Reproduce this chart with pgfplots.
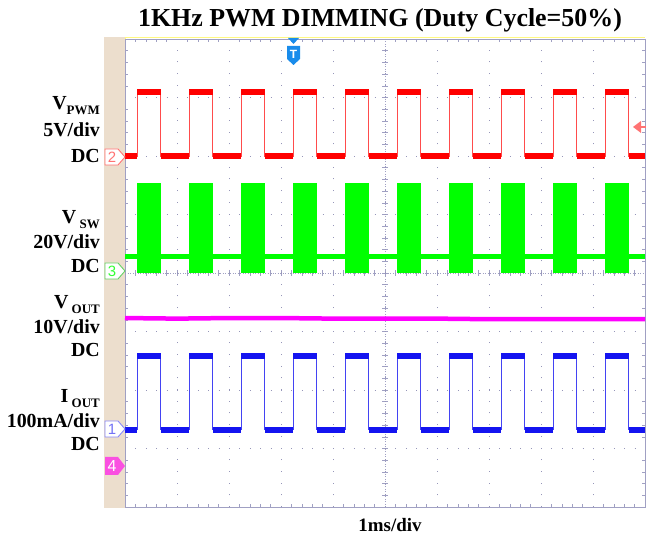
\documentclass[border=0pt]{standalone}
\usepackage{pgfplots}
\pgfplotsset{compat=1.18}
\usepackage{fontspec}
\setmainfont{Liberation Serif}
\newfontfamily\numfont{Liberation Sans}
\definecolor{beige}{RGB}{236,222,205}
\definecolor{gridc}{RGB}{150,150,185}
\definecolor{framec}{RGB}{160,160,195}
\definecolor{trig}{RGB}{25,140,235}
\definecolor{cred}{RGB}{255,0,0}
\definecolor{cgreen}{RGB}{0,255,0}
\definecolor{cmag}{RGB}{255,0,255}
\definecolor{cblue}{RGB}{20,20,240}
\definecolor{cfour}{RGB}{250,80,225}
\begin{document}
\begin{tikzpicture}
% background decorations (image pixel coordinates, origin top-left)
\begin{scope}[x=1bp,y=-1bp,yshift=539bp]
  \fill[beige] (104,37) rectangle (125,508);
  \draw[yellow!50!white, line width=1bp] (125,37)--(125,508);
  \draw[yellow!50!white, line width=1bp] (125,38)--(645,38);
  \draw[framec, line width=0.6bp, dash pattern=on 1bp off 1.5bp] (385,39)--(385,507);
  \draw[framec, line width=0.6bp, dash pattern=on 1bp off 1.5bp] (125,273)--(645,273);
  \foreach \k in {0,...,40} \draw[framec, line width=0.5bp] (382,{39+\k*11.7})--(388,{39+\k*11.7});
  \foreach \k in {0,...,50} \draw[framec, line width=0.5bp] ({125+\k*10.4},270)--({125+\k*10.4},276);
\end{scope}

\begin{axis}[at={(125bp,32bp)}, anchor=south west, scale only axis,
  width=520bp, height=468bp,
  xmin=0, xmax=10, ymin=0, ymax=8,
  xtick={0,...,10}, ytick={0,...,8}, xticklabels={}, yticklabels={},
  major tick length=0pt, minor x tick num=4, minor y tick num=4,
  minor tick length=3bp, tick align=inside,
  tick style={framec, line width=0.5bp},
  axis line style={framec, line width=0.8bp},
  grid=major,
  x grid style={gridc, line width=0.9bp, dash pattern=on 0.9bp off 10.8bp},
  y grid style={gridc, line width=0.9bp, dash pattern=on 0.9bp off 9.5bp},
  unbounded coords=jump, clip=false]

% ---- V_PWM (red) ----
\addplot[cred!70, line width=0.8bp, const plot] coordinates {
 (0,6.0) (0.24,7.1) (0.69,6.0) (1.24,7.1) (1.69,6.0) (2.24,7.1) (2.69,6.0)
 (3.24,7.1) (3.69,6.0) (4.24,7.1) (4.69,6.0) (5.24,7.1) (5.69,6.0) (6.24,7.1)
 (6.69,6.0) (7.24,7.1) (7.69,6.0) (8.24,7.1) (8.69,6.0) (9.24,7.1) (9.69,6.0) (10,6.0)};
\addplot[cred, line width=5.5bp] coordinates {
 (0,6.0)(0.24,6.0)(0.4,nan) (0.69,6.0)(1.24,6.0)(1.4,nan) (1.69,6.0)(2.24,6.0)(2.4,nan)
 (2.69,6.0)(3.24,6.0)(3.4,nan) (3.69,6.0)(4.24,6.0)(4.4,nan) (4.69,6.0)(5.24,6.0)(5.4,nan)
 (5.69,6.0)(6.24,6.0)(6.4,nan) (6.69,6.0)(7.24,6.0)(7.4,nan) (7.69,6.0)(8.24,6.0)(8.4,nan)
 (8.69,6.0)(9.24,6.0)(9.4,nan) (9.69,6.0)(10,6.0)};
\addplot[cred, line width=6bp] coordinates {
 (0.24,7.1)(0.69,7.1)(0.9,nan) (1.24,7.1)(1.69,7.1)(1.9,nan) (2.24,7.1)(2.69,7.1)(2.9,nan)
 (3.24,7.1)(3.69,7.1)(3.9,nan) (4.24,7.1)(4.69,7.1)(4.9,nan) (5.24,7.1)(5.69,7.1)(5.9,nan)
 (6.24,7.1)(6.69,7.1)(6.9,nan) (7.24,7.1)(7.69,7.1)(7.9,nan) (8.24,7.1)(8.69,7.1)(8.9,nan)
 (9.24,7.1)(9.69,7.1)};

% ---- V_SW (green) : bursts between 4.00 and 5.54, idle level 4.29 ----
\addplot[cgreen, line width=5bp] coordinates {
 (0,4.29)(0.24,4.29)(0.4,nan) (0.69,4.29)(1.24,4.29)(1.4,nan) (1.69,4.29)(2.24,4.29)(2.4,nan)
 (2.69,4.29)(3.24,4.29)(3.4,nan) (3.69,4.29)(4.24,4.29)(4.4,nan) (4.69,4.29)(5.24,4.29)(5.4,nan)
 (5.69,4.29)(6.24,4.29)(6.4,nan) (6.69,4.29)(7.24,4.29)(7.4,nan) (7.69,4.29)(8.24,4.29)(8.4,nan)
 (8.69,4.29)(9.24,4.29)(9.4,nan) (9.69,4.29)(10,4.29)};
\addplot[cgreen, line width=90bp] coordinates {
 (0.24,4.77)(0.69,4.77)(0.9,nan) (1.24,4.77)(1.69,4.77)(1.9,nan) (2.24,4.77)(2.69,4.77)(2.9,nan)
 (3.24,4.77)(3.69,4.77)(3.9,nan) (4.24,4.77)(4.69,4.77)(4.9,nan) (5.24,4.77)(5.69,4.77)(5.9,nan)
 (6.24,4.77)(6.69,4.77)(6.9,nan) (7.24,4.77)(7.69,4.77)(7.9,nan) (8.24,4.77)(8.69,4.77)(8.9,nan)
 (9.24,4.77)(9.69,4.77)};

% ---- V_OUT (magenta) ----
\addplot[cmag, line width=4.5bp] coordinates {
 (0,3.23) (1,3.22) (2,3.23) (3,3.23) (4,3.22) (5,3.22) (6,3.22) (7,3.21) (8,3.21) (9,3.21) (10,3.21)};

% ---- I_OUT (blue) ----
\addplot[cblue!80, line width=0.8bp, const plot] coordinates {
 (0,1.32) (0.24,2.58) (0.69,1.32) (1.24,2.58) (1.69,1.32) (2.24,2.58) (2.69,1.32)
 (3.24,2.58) (3.69,1.32) (4.24,2.58) (4.69,1.32) (5.24,2.58) (5.69,1.32) (6.24,2.58)
 (6.69,1.32) (7.24,2.58) (7.69,1.32) (8.24,2.58) (8.69,1.32) (9.24,2.58) (9.69,1.32) (10,1.32)};
\addplot[cblue, line width=5.5bp] coordinates {
 (0,1.32)(0.24,1.32)(0.4,nan) (0.69,1.32)(1.24,1.32)(1.4,nan) (1.69,1.32)(2.24,1.32)(2.4,nan)
 (2.69,1.32)(3.24,1.32)(3.4,nan) (3.69,1.32)(4.24,1.32)(4.4,nan) (4.69,1.32)(5.24,1.32)(5.4,nan)
 (5.69,1.32)(6.24,1.32)(6.4,nan) (6.69,1.32)(7.24,1.32)(7.4,nan) (7.69,1.32)(8.24,1.32)(8.4,nan)
 (8.69,1.32)(9.24,1.32)(9.4,nan) (9.69,1.32)(10,1.32)};
\addplot[cblue, line width=5.5bp] coordinates {
 (0.24,2.58)(0.69,2.58)(0.9,nan) (1.24,2.58)(1.69,2.58)(1.9,nan) (2.24,2.58)(2.69,2.58)(2.9,nan)
 (3.24,2.58)(3.69,2.58)(3.9,nan) (4.24,2.58)(4.69,2.58)(4.9,nan) (5.24,2.58)(5.69,2.58)(5.9,nan)
 (6.24,2.58)(6.69,2.58)(6.9,nan) (7.24,2.58)(7.69,2.58)(7.9,nan) (8.24,2.58)(8.69,2.58)(8.9,nan)
 (9.24,2.58)(9.69,2.58)};
\end{axis}

% foreground annotations (image pixel coordinates)
\begin{scope}[x=1bp,y=-1bp,yshift=539bp]
  \node[font=\bfseries\fontsize{26}{26}\selectfont, anchor=base] at (380,27) {1KHz PWM DIMMING (Duty Cycle=50\%)};
  \node[font=\bfseries\fontsize{19}{19}\selectfont, anchor=base] at (390,532) {1ms/div};
  % channel labels
  \begin{scope}[every node/.style={anchor=base east, font=\bfseries\fontsize{20}{20}\selectfont, inner sep=0pt}]
    \node at (100,110) {V\raisebox{-0.25em}{\fontsize{13}{13}\selectfont PWM}};
    \node at (100,137) {5V/div};
    \node at (100,163) {DC};
    \node at (100,224) {V\,\raisebox{-0.25em}{\fontsize{13}{13}\selectfont SW}};
    \node at (100,249) {20V/div};
    \node at (100,273) {DC};
    \node at (100,309) {V\,\raisebox{-0.25em}{\fontsize{13}{13}\selectfont OUT}};
    \node at (100,334) {10V/div};
    \node at (100,357) {DC};
    \node at (100,403) {I\,\raisebox{-0.25em}{\fontsize{13}{13}\selectfont OUT}};
    \node at (100,428) {100mA/div};
    \node at (100,451) {DC};
  \end{scope}
  % channel markers
  \draw[cred!55, fill=white, line width=0.9bp] (105,149)--(118,149)--(125,157)--(118,165)--(105,165)--cycle;
  \node[cred!55, font=\numfont\fontsize{15}{15}\selectfont] at (112,157) {2};
  \draw[cgreen!70!black!60, fill=white, line width=0.9bp] (105,263)--(118,263)--(125,271)--(118,279)--(105,279)--cycle;
  \node[cgreen!80!white, font=\numfont\fontsize{15}{15}\selectfont] at (112,271) {3};
  \draw[cblue!50, fill=white, line width=0.9bp] (105,421)--(118,421)--(125,429)--(118,437)--(105,437)--cycle;
  \node[cblue!60, font=\numfont\fontsize{15}{15}\selectfont] at (112,429) {1};
  \fill[cfour] (105,457)--(118,457)--(125,466)--(118,475)--(105,475)--cycle;
  \node[white, font=\numfont\fontsize{16}{16}\selectfont] at (112,466) {4};
  % trigger position marker
  \fill[trig] (288,38)--(299,38)--(293.5,44)--cycle;
  \fill[trig] (287,46)--(300,46)--(300,59)--(293.5,65)--(287,59)--cycle;
  \node[white, font=\numfont\bfseries\fontsize{12}{12}\selectfont] at (293.5,54) {T};
  % trigger level marker
  \fill[cred!55] (633,127)--(641,121)--(641,133)--cycle;
  \draw[cred!55, line width=1.5bp] (640,127)--(646,127);
\end{scope}
\pgfresetboundingbox
\useasboundingbox (0,0) rectangle (646bp,539bp);
\end{tikzpicture}
\end{document}
